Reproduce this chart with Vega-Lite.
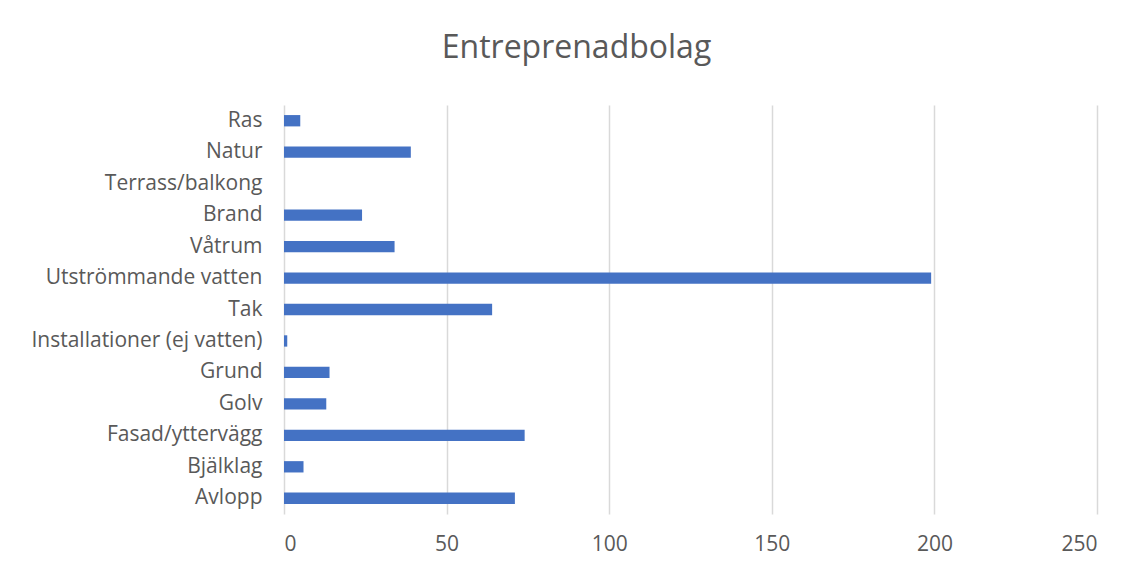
{
  "$schema": "https://vega.github.io/schema/vega-lite/v6.json",
  "width": 813,
  "height": 409,
  "autosize": "none",
  "padding": {"left": 284, "top": 105, "right": 40, "bottom": 57},
  "background": "white",
  "title": {
    "text": "Entreprenadbolag",
    "font": "Open Sans",
    "fontSize": 32,
    "fontWeight": "normal",
    "color": "#595959",
    "anchor": "middle",
    "frame": "group",
    "dx": -114,
    "baseline": "alphabetic",
    "offset": 15
  },
  "data": {
    "values": [
      {"kategori": "Ras", "antal": 5},
      {"kategori": "Natur", "antal": 39},
      {"kategori": "Terrass/balkong", "antal": 0},
      {"kategori": "Brand", "antal": 24},
      {"kategori": "Våtrum", "antal": 34},
      {"kategori": "Utströmmande vatten", "antal": 199},
      {"kategori": "Tak", "antal": 64},
      {"kategori": "Installationer (ej vatten)", "antal": 1},
      {"kategori": "Grund", "antal": 14},
      {"kategori": "Golv", "antal": 13},
      {"kategori": "Fasad/yttervägg", "antal": 74},
      {"kategori": "Bjälklag", "antal": 6},
      {"kategori": "Avlopp", "antal": 71}
    ]
  },
  "mark": {"type": "bar", "color": "#4472C4"},
  "encoding": {
    "y": {
      "field": "kategori",
      "type": "nominal",
      "sort": null,
      "title": null,
      "scale": {"paddingInner": 0.64, "paddingOuter": 0.32},
      "axis": {
        "ticks": false,
        "domain": false,
        "grid": false,
        "labelFont": "Open Sans",
        "labelFontSize": 21,
        "labelColor": "#595959",
        "labelPadding": 22,
        "labelLimit": 400
      }
    },
    "x": {
      "field": "antal",
      "type": "quantitative",
      "title": null,
      "scale": {"domain": [0, 250], "nice": false},
      "axis": {
        "values": [0, 50, 100, 150, 200, 250],
        "ticks": false,
        "domain": false,
        "grid": true,
        "gridColor": "#d9d9d9",
        "gridWidth": 1.5,
        "labelFont": "Open Sans",
        "labelFontSize": 21,
        "labelColor": "#595959",
        "labelPadding": 19
      }
    }
  },
  "config": {"view": {"stroke": null}}
}
